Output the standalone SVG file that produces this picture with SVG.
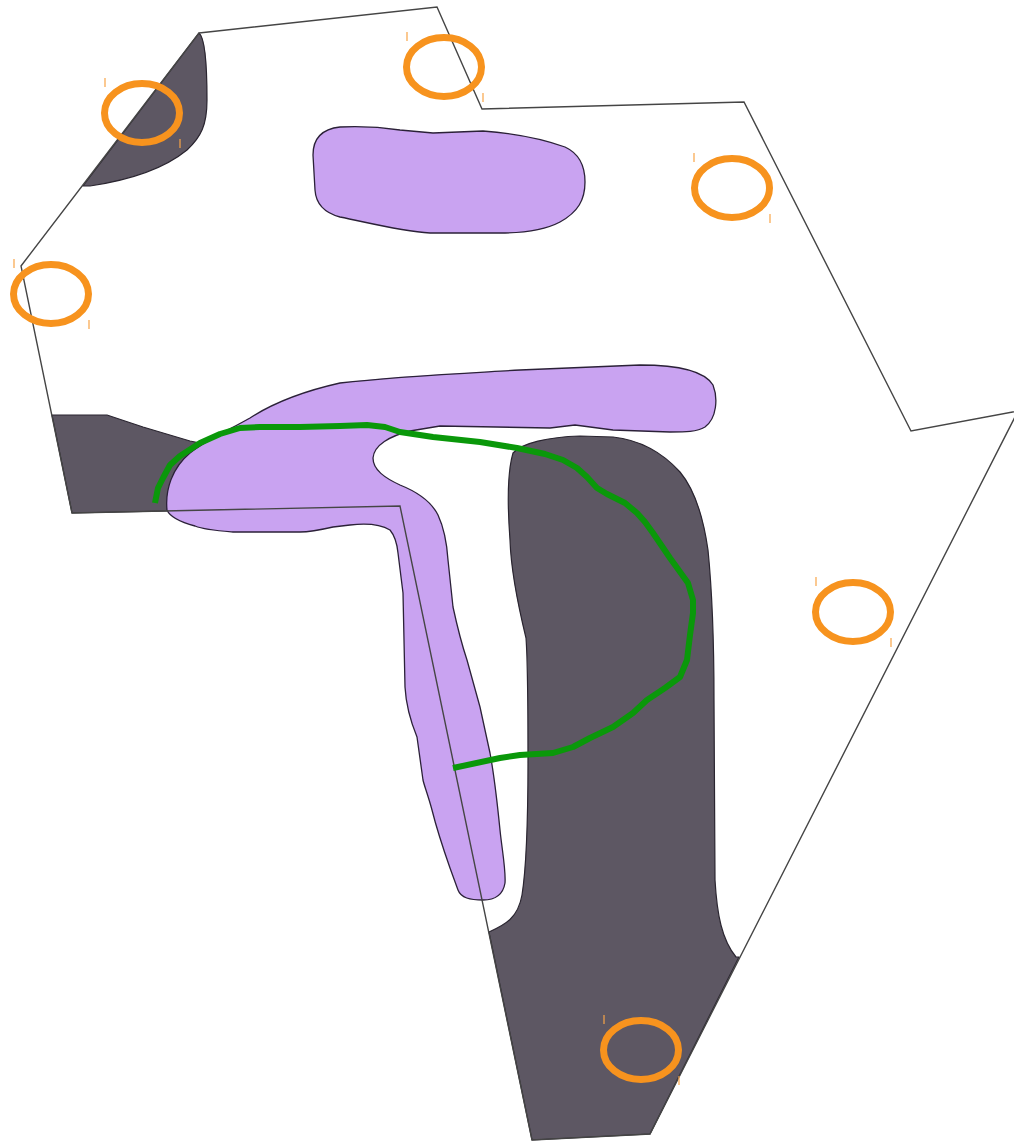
<svg xmlns="http://www.w3.org/2000/svg" width="1014" height="1142" viewBox="0 0 1014 1142">
<style>
.dark{fill:#5d5763;stroke:#2a2530;stroke-width:1.2;stroke-linejoin:round}
.purple{fill:#c9a3f1;stroke:#2b2138;stroke-width:1.3;stroke-linejoin:round}
.outline{fill:none;stroke:#454545;stroke-width:1.4;stroke-linejoin:miter}
.green{fill:none;stroke:#0a980a;stroke-width:6;stroke-linejoin:round;stroke-linecap:butt}
.ring{fill:none;stroke:#f7931e;stroke-width:7}
.tick{stroke:#f9a447;stroke-width:1.2}
</style>
<rect width="1014" height="1142" fill="#ffffff"/>
<g id="dark-regions">
<path id="dark-top-left" class="dark" d="M199,33 C205,38 207,60 207,100 C207,125 201,137 187,150 C165,168 130,180 90,186 L83,186 Z"/>
<path id="dark-left" class="dark" d="M52,415 L107,415 L143,427 L190,441 L205,444 L172,480 L167,511 L72,513 Z"/>
<path id="dark-big" class="dark" d="M513,453 C522,443 548,437 580,436 L613,437 C640,440 662,452 680,472 C695,490 703,515 708,550 C712,590 714,640 714,700 L715,880 C717,915 722,940 736,957 L739,957 L650,1134 L532,1140 L489,932 C505,925 518,918 522,895 C526,870 528,820 528,760 C528,700 528,665 526,638 C518,605 511,572 510,540 C507,500 508,470 513,453 Z"/>
</g>
<g id="purple-regions">
<path id="purple-top" class="purple" d="M340,127 C360,126 380,127 400,130 L433,133 L483,131 C510,133 540,138 565,147 C578,153 585,165 585,182 C585,200 578,212 560,222 C545,230 525,233 500,233 L430,233 C400,231 370,223 340,217 C325,213 316,205 315,190 L313,155 C313,138 322,129 340,127 Z"/>
<path id="purple-main" class="purple" d="M167,510 C165,490 172,468 190,453 C205,441 225,432 250,418 C270,405 300,392 340,383 C400,376 470,373 520,370 L640,365 C680,365 705,372 713,385 C718,398 717,418 705,427 C697,432 685,432 670,432 L613,430 L575,425 L550,428 L440,426 L410,431 C390,436 374,445 373,458 C373,470 385,478 400,485 C420,493 432,503 438,515 C445,530 447,545 448,560 L453,607 C458,630 462,645 467,660 L480,707 L490,753 C495,780 497,800 500,830 C502,850 506,870 505,883 C503,895 495,900 483,900 C470,900 461,898 458,890 L450,868 C443,848 437,830 432,810 C428,795 424,785 423,780 L417,737 C410,720 406,705 405,687 L403,593 L398,553 C397,543 395,536 390,530 C380,524 367,523 350,525 L333,527 C320,530 310,532 300,532 L233,532 C220,531 205,530 195,526 C180,522 170,517 167,510 Z"/>
</g>
<g id="boundary">
<polygon class="outline" points="199,33 437,7 482,109 744,102 911,431 1018,411 650,1134 532,1140 400,506 72,513 21,266"/>
</g>
<g id="connectors">
<path id="green-route" class="green" d="M155,503 L158,488 L163,478 L170,465 L180,456 L200,443 L220,434 L240,428 L260,427 L300,427 L340,426 L367,425 L385,427 L400,432 L433,437 L480,442 L517,448 L545,454 L563,460 L577,468 L587,477 L597,488 L607,494 L625,503 L637,513 L645,522 L653,533 L670,558 L688,583 L693,600 L693,613 L690,635 L687,660 L680,677 L665,688 L647,700 L633,713 L613,727 L590,738 L573,747 L553,753 L520,755 L500,758 L453,768"/>
</g>
<g id="marker-1"><ellipse class="ring" cx="142" cy="113" rx="37.5" ry="29.5"/><line class="tick" x1="105" y1="78" x2="105" y2="87"/><line class="tick" x1="180" y1="139" x2="180" y2="148"/></g>
<g id="marker-2"><ellipse class="ring" cx="51" cy="294" rx="37.5" ry="29.5"/><line class="tick" x1="14" y1="259" x2="14" y2="268"/><line class="tick" x1="89" y1="320" x2="89" y2="329"/></g>
<g id="marker-3"><ellipse class="ring" cx="444" cy="67" rx="37.5" ry="29.5"/><line class="tick" x1="407" y1="32" x2="407" y2="41"/><line class="tick" x1="483" y1="93" x2="483" y2="102"/></g>
<g id="marker-4"><ellipse class="ring" cx="732" cy="188" rx="37.5" ry="29.5"/><line class="tick" x1="694" y1="153" x2="694" y2="162"/><line class="tick" x1="770" y1="214" x2="770" y2="223"/></g>
<g id="marker-5"><ellipse class="ring" cx="853" cy="612" rx="37.5" ry="29.5"/><line class="tick" x1="816" y1="577" x2="816" y2="586"/><line class="tick" x1="891" y1="638" x2="891" y2="647"/></g>
<g id="marker-6"><ellipse class="ring" cx="641" cy="1050" rx="37.5" ry="29.5"/><line class="tick" x1="604" y1="1015" x2="604" y2="1024"/><line class="tick" x1="679" y1="1076" x2="679" y2="1085"/></g>
</svg>
